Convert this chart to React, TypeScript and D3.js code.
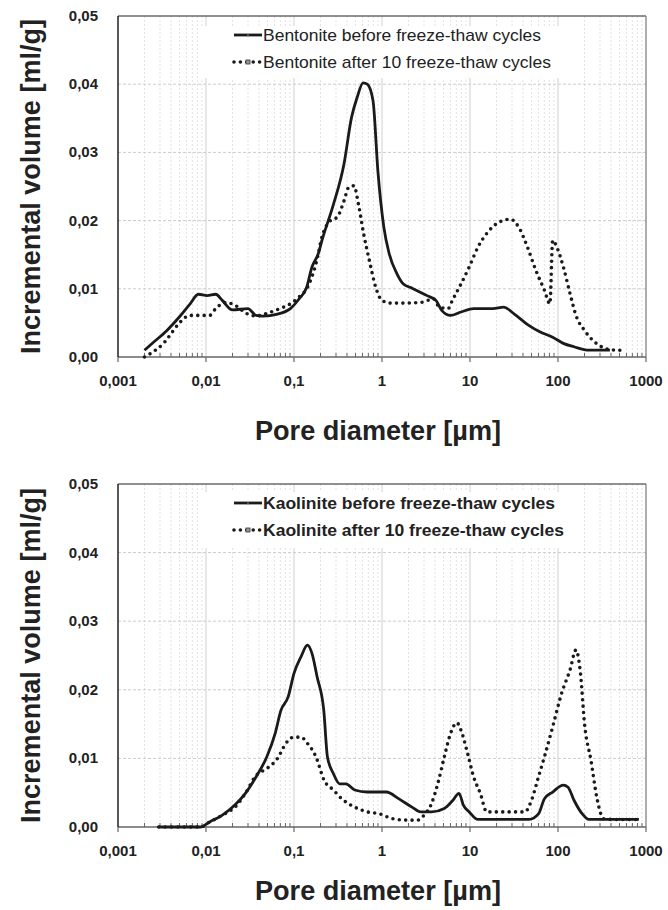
import React from "react";
import * as d3 from "d3";

const xTickValues = [0.001, 0.01, 0.1, 1, 10, 100, 1000];
const xTickLabels = ["0,001", "0,01", "0,1", "1", "10", "100", "1000"];
const yTickValues = [0, 0.01, 0.02, 0.03, 0.04, 0.05];
const yTickLabels = ["0,00", "0,01", "0,02", "0,03", "0,04", "0,05"];

const benBeforeX = [0.002,0.00255,0.0036,0.005,0.0066,0.0082,0.0103,0.0129,0.0153,0.02,0.03,0.037,0.044,0.065,0.091,0.114,0.139,0.16,0.188,0.21,0.278,0.37,0.45,0.52,0.61,0.68,0.79,0.9,1.05,1.21,1.48,1.75,2.19,3.25,4.1,4.8,6.0,7.9,11,13.8,18.2,24.1,31.9,47,62,87,115,152,224,389];
const benBeforeY = [0.001,0.0022,0.0039,0.0059,0.0078,0.0092,0.009,0.0092,0.0083,0.0069,0.0071,0.0061,0.006,0.0063,0.0071,0.0085,0.0102,0.0132,0.0151,0.0173,0.0222,0.0283,0.0351,0.038,0.0402,0.040,0.0376,0.0271,0.019,0.0151,0.0122,0.0107,0.0101,0.009,0.0083,0.0068,0.0061,0.0066,0.0071,0.0071,0.0071,0.0073,0.0063,0.0046,0.0037,0.0029,0.002,0.0015,0.001,0.001];

const benAfterX = [0.002,0.0024,0.0034,0.004,0.005,0.0066,0.0082,0.011,0.0129,0.017,0.0213,0.0297,0.037,0.049,0.069,0.091,0.114,0.142,0.178,0.21,0.26,0.31,0.37,0.42,0.48,0.54,0.62,0.72,0.85,1.0,1.26,1.76,2.75,3.85,4.5,5.65,6.3,7.9,9.8,12.3,16.4,21.7,28.7,35.9,45,56,70,81,87,97,115,137,160,200,251,356,466,580];
const benAfterY = [0,0.0006,0.0022,0.0034,0.005,0.0061,0.0061,0.0061,0.0071,0.008,0.0076,0.0063,0.006,0.0064,0.0071,0.0078,0.0088,0.0102,0.0137,0.0178,0.02,0.0205,0.0229,0.0249,0.0251,0.0224,0.018,0.0141,0.0102,0.0083,0.0079,0.0079,0.008,0.0085,0.0073,0.0071,0.0083,0.0107,0.0132,0.0161,0.0185,0.0198,0.0202,0.019,0.0161,0.0127,0.0098,0.0078,0.0171,0.0161,0.0132,0.0093,0.0061,0.0039,0.0024,0.0012,0.001,0.001];

const kaoBeforeX = [0.0029,0.005,0.0087,0.0109,0.0152,0.0213,0.028,0.037,0.049,0.061,0.071,0.086,0.1,0.12,0.142,0.16,0.183,0.218,0.24,0.28,0.33,0.39,0.49,0.68,1.12,1.56,2.19,2.75,3.65,5.1,6.4,7.5,8.4,9.8,12.3,19.2,30,47,60,70,87,115,130,152,189,224,356,557,830];
const kaoBeforeY = [0,0,0,0.0007,0.0017,0.0032,0.0049,0.0073,0.0102,0.0136,0.017,0.019,0.0224,0.0248,0.0265,0.0253,0.0219,0.017,0.0102,0.0078,0.0063,0.0063,0.0054,0.0051,0.0051,0.0041,0.0029,0.0022,0.0022,0.0027,0.0039,0.0049,0.0032,0.0022,0.0011,0.0011,0.0011,0.0011,0.0019,0.0041,0.0051,0.0061,0.0058,0.0039,0.0019,0.0011,0.0011,0.0011,0.0011];

const kaoAfterX = [0.0029,0.0087,0.0109,0.0152,0.0225,0.028,0.037,0.049,0.065,0.081,0.1,0.12,0.142,0.178,0.22,0.28,0.35,0.49,0.68,0.95,1.33,1.96,2.55,3.0,3.65,4.3,5.1,6.0,7.1,7.9,9.4,11,13.1,15.5,19.2,30,42,50,60,70,87,110,137,160,180,200,237,280,330,440,850];
const kaoAfterY = [0,0,0.0007,0.0017,0.0032,0.0049,0.0075,0.0085,0.01,0.0122,0.0131,0.0131,0.0122,0.0102,0.0068,0.0054,0.0041,0.0029,0.0022,0.0019,0.0012,0.001,0.001,0.0017,0.0034,0.0063,0.0102,0.0136,0.0152,0.0141,0.0107,0.0073,0.0049,0.0022,0.0022,0.0022,0.0022,0.0039,0.0073,0.0102,0.0146,0.0195,0.0229,0.0258,0.0224,0.0151,0.0097,0.0039,0.0012,0.0011,0.0011];

const topLegend = ["Bentonite before freeze-thaw cycles", "Bentonite after 10 freeze-thaw cycles"];
const bottomLegend = ["Kaolinite before freeze-thaw cycles", "Kaolinite after 10 freeze-thaw cycles"];
const yTitle = "Incremental volume [ml/g]";
const xTitle = "Pore diameter [µm]";

const NARROW = "'Liberation Sans Narrow', 'Arial Narrow', 'Liberation Sans', Arial, sans-serif";
const SANS = "'Liberation Sans', Arial, Helvetica, sans-serif";

function zip(xs: number[], ys: number[]) {
  return xs.map((x, i) => [x, ys[i]] as [number, number]);
}

type PanelProps = {
  top: number;
  bottom: number;
  before: [number, number][];
  after: [number, number][];
  legend: string[];
  legendBold: boolean;
  legendWidths: number[];
  legendBox: [number, number, number, number];
  titleY: number;
};

function Panel({ top, bottom, before, after, legend, legendBold, legendWidths, legendBox, titleY }: PanelProps) {
  const left = 118;
  const right = 646;
  const x = d3.scaleLog().domain([0.001, 1000]).range([left, right]);
  const y = d3.scaleLinear().domain([0, 0.05]).range([bottom, top]);
  const line = d3
    .line<[number, number]>()
    .x((d) => x(d[0]))
    .y((d) => y(d[1]))
    .curve(d3.curveMonotoneX);

  const minor: number[] = [];
  for (let e = -3; e < 3; e++) {
    for (let k = 2; k <= 9; k++) minor.push(k * Math.pow(10, e));
  }
  const [lbx, lby, lbw, lbh] = legendBox;
  const ly1 = top + 19;
  const ly2 = top + 46;
  const lx1 = 234;
  const lx2 = 262;

  return (
    <g>
      {minor.map((m, i) => (
        <line key={"mg" + i} x1={x(m)} x2={x(m)} y1={top} y2={bottom} stroke="#dadada" strokeWidth={0.8} strokeDasharray="2,2" />
      ))}
      {xTickValues.slice(1, -1).map((v, i) => (
        <line key={"Mg" + i} x1={x(v)} x2={x(v)} y1={top} y2={bottom} stroke="#d0d0d0" strokeWidth={1} />
      ))}
      {yTickValues.slice(1, -1).map((v, i) => (
        <line key={"hg" + i} x1={left} x2={right} y1={y(v)} y2={y(v)} stroke="#cccccc" strokeWidth={1} strokeDasharray="3,2" />
      ))}
      <rect x={lbx} y={lby} width={lbw} height={lbh} fill="white" />
      <line x1={left} x2={right} y1={top} y2={top} stroke="#222" strokeWidth={1.2} />
      <line x1={right} x2={right} y1={top} y2={bottom} stroke="#777" strokeWidth={1.2} />
      <line x1={left} x2={right} y1={bottom} y2={bottom} stroke="#666" strokeWidth={1.4} />
      <line x1={left} x2={left} y1={top} y2={bottom} stroke="#111" strokeWidth={1.4} />
      {minor.map((m, i) => (
        <line key={"mt" + i} x1={x(m)} x2={x(m)} y1={bottom - 4} y2={bottom} stroke="#666" strokeWidth={1} />
      ))}
      {xTickValues.map((v, i) => (
        <line key={"Mt" + i} x1={x(v)} x2={x(v)} y1={bottom} y2={bottom + 5} stroke="#666" strokeWidth={1.2} />
      ))}
      {xTickValues.map((v, i) => (
        <text key={"xl" + i} x={x(v)} y={bottom + 29} textAnchor="middle" fontFamily={NARROW} fontWeight="bold" fontSize={15} fill="#222">
          {xTickLabels[i]}
        </text>
      ))}
      {yTickValues.map((v, i) => (
        <text key={"yl" + i} x={98} y={y(v) + 5} textAnchor="end" fontFamily={NARROW} fontWeight="bold" fontSize={15} fill="#222">
          {yTickLabels[i]}
        </text>
      ))}
      <path d={line(after) || ""} fill="none" stroke="#1a1a1a" strokeWidth={3.6} strokeLinecap="round" strokeDasharray="0,6.4" />
      <path d={line(before) || ""} fill="none" stroke="#1a1a1a" strokeWidth={2.8} strokeLinejoin="round" />
      <line x1={lx1} x2={lx2} y1={ly1} y2={ly1} stroke="#1a1a1a" strokeWidth={2.8} />
      <line x1={(lx1 + lx2) / 2} x2={(lx1 + lx2) / 2} y1={ly1 - 2} y2={ly1 + 2} stroke="#888" strokeWidth={1} />
      <line x1={lx1} x2={lx2} y1={ly2} y2={ly2} stroke="#1a1a1a" strokeWidth={3.6} strokeLinecap="round" strokeDasharray="0,6.4" />
      <rect x={(lx1 + lx2) / 2 - 2} y={ly2 - 2} width={4} height={4} fill="#999" stroke="#333" strokeWidth={0.8} />
      <text x={lx2 + 1} y={ly1 + 6} fontFamily={NARROW} fontWeight={legendBold ? "bold" : "normal"} fontSize={17} fill="#222" textLength={legendWidths[0]} lengthAdjust="spacingAndGlyphs">
        {legend[0]}
      </text>
      <text x={lx2 + 1} y={ly2 + 6} fontFamily={NARROW} fontWeight={legendBold ? "bold" : "normal"} fontSize={17} fill="#222" textLength={legendWidths[1]} lengthAdjust="spacingAndGlyphs">
        {legend[1]}
      </text>
      <text transform={`translate(40, ${(top + bottom) / 2}) rotate(-90)`} textAnchor="middle" fontFamily={SANS} fontWeight="bold" fontSize={27} fill="#222" textLength={335} lengthAdjust="spacingAndGlyphs">
        {yTitle}
      </text>
      <text x={378} y={titleY} textAnchor="middle" fontFamily={SANS} fontWeight="bold" fontSize={27} fill="#222" textLength={246} lengthAdjust="spacingAndGlyphs">
        {xTitle}
      </text>
    </g>
  );
}

export default function App() {
  return (
    <svg width={668} height={910} style={{ position: "absolute", left: 0, top: 0, background: "white" }}>
      <rect x={0} y={0} width={668} height={910} fill="white" />
      <Panel
        top={16}
        bottom={357}
        before={zip(benBeforeX, benBeforeY)}
        after={zip(benAfterX, benAfterY)}
        legend={topLegend}
        legendBold={false}
        legendWidths={[278, 288]}
        legendBox={[200, 26, 360, 52]}
        titleY={440}
      />
      <Panel
        top={484}
        bottom={827}
        before={zip(kaoBeforeX, kaoBeforeY)}
        after={zip(kaoAfterX, kaoAfterY)}
        legend={bottomLegend}
        legendBold={true}
        legendWidths={[292, 301]}
        legendBox={[200, 492, 375, 56]}
        titleY={900}
      />
    </svg>
  );
}
